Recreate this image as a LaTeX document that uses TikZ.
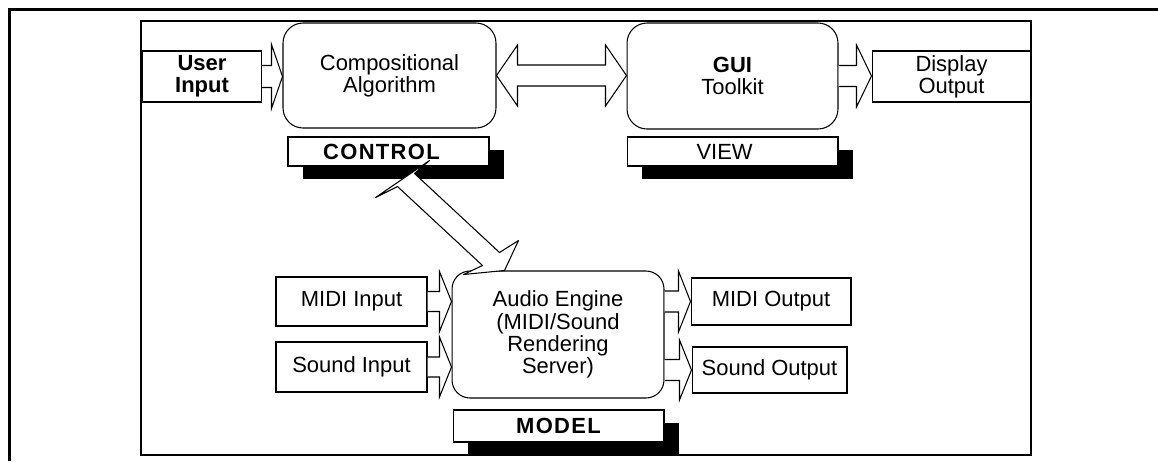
\documentclass[tikz,border=0pt]{standalone}
\usepackage{fontspec}
\setmainfont{Liberation Sans}
\newfontfamily\tagfont[LetterSpace=6]{Liberation Sans}
\usetikzlibrary{calc,shadows}

% one drawing unit in points (the picture is laid out on a 0.02cm grid)
\newcommand\pxu{0.569055pt}

% hollow block arrow pointing right: #1 start, #2 tip (same height),
% #3 shaft half-width, #4 head half-width, #5 head length (grid units)
\newcommand\blockarrowR[5]{%
  \draw[blockarrow] let \p1=(#1), \p2=(#2) in
    (\x1,{\y1+#3*\pxu}) -- ({\x2-#5*\pxu},{\y1+#3*\pxu})
    -- ({\x2-#5*\pxu},{\y1+#4*\pxu}) -- (\x2,\y1)
    -- ({\x2-#5*\pxu},{\y1-#4*\pxu}) -- ({\x2-#5*\pxu},{\y1-#3*\pxu})
    -- (\x1,{\y1-#3*\pxu});
}
% hollow block arrow with heads at both ends
\newcommand\blockarrowLR[5]{%
  \draw[blockarrow] let \p1=(#1), \p2=(#2) in
    (\x1,\y1) -- ({\x1+#5*\pxu},{\y1+#4*\pxu}) -- ({\x1+#5*\pxu},{\y1+#3*\pxu})
    -- ({\x2-#5*\pxu},{\y1+#3*\pxu}) -- ({\x2-#5*\pxu},{\y1+#4*\pxu})
    -- (\x2,\y1)
    -- ({\x2-#5*\pxu},{\y1-#4*\pxu}) -- ({\x2-#5*\pxu},{\y1-#3*\pxu})
    -- ({\x1+#5*\pxu},{\y1-#3*\pxu}) -- ({\x1+#5*\pxu},{\y1-#4*\pxu})
    -- cycle;
}

\tikzset{
  txt/.style={font=\fontsize{12.5pt}{12.6pt}\selectfont, align=center, inner sep=0pt},
  iobox/.style={txt, draw, fill=white, line width=0.6pt},
  unit/.style={txt, draw, fill=white, line width=0.6pt, rounded corners=0.4cm},
  tag/.style={txt, draw, fill=white, line width=0.6pt,
    drop shadow={opacity=1, fill=black, shadow xshift=0.3cm, shadow yshift=-0.25cm}},
  blockarrow/.style={draw, fill=white, line width=0.6pt, line join=miter},
}

\begin{document}
\begin{tikzpicture}[x=0.02cm, y=-0.02cm]
\useasboundingbox (0,0) rectangle (1158,461);

% outer and inner frames
\draw[line width=1.4pt] (9.5,461) -- (9.5,9.5) -- (1158,9.5);
\draw[line width=0.85pt] (141,21) rectangle (1031,455);

% controller / view row
\node[iobox, minimum width=2.38cm, minimum height=1.02cm] (userin) at (202,76.5)
  {\textbf{User}\\\textbf{Input}};
\node[unit, minimum width=4.26cm, minimum height=2.10cm] (comp) at (389.5,75.5)
  {Compositional\\Algorithm};
\node[unit, minimum width=4.22cm, minimum height=2.12cm] (gui) at (732.5,76)
  {\textbf{GUI}\\Toolkit};
\node[iobox, minimum width=3.18cm, minimum height=1.02cm] (dispout) at (951.5,76.5)
  {Display\\Output};

\node[tag, minimum width=4.02cm, minimum height=0.58cm] (control) at (388.5,151.5)
  {\tagfont\bfseries CONTROL\kern 8pt};
\node[tag, minimum width=4.22cm, minimum height=0.58cm] (view) at (732.5,151.5)
  {VIEW\kern 9pt};

% model row
\node[unit, rounded corners=0.36cm, minimum width=4.24cm, minimum height=2.54cm] (audio) at (558,334.5)
  {Audio Engine\\(MIDI/Sound\\Rendering\\Server)};
\node[iobox, minimum width=3.02cm, minimum height=0.98cm] (midiin) at (351.5,301.5) {MIDI Input};
\node[iobox, minimum width=3.02cm, minimum height=1.00cm] (soundin) at (351.5,367) {Sound Input};
\node[iobox, minimum width=3.20cm, minimum height=0.94cm] (midiout) at (771,301.5) {MIDI Output};
\node[iobox, minimum width=3.10cm, minimum height=0.92cm] (soundout) at (769.5,370) {Sound Output};
\node[tag, minimum width=4.22cm, minimum height=0.64cm] (model) at (558.5,426)
  {\tagfont\bfseries MODEL};

% block arrows
\blockarrowR{userin.east}{comp.west |- userin.east}{11}{32}{11}
\blockarrowLR{comp.east}{gui.west |- comp.east}{10.5}{30.5}{21}
\blockarrowR{gui.east}{dispout.west |- gui.east}{10.5}{31}{15}
\blockarrowR{midiin.east}{audio.west |- midiin.east}{10}{30}{12}
\blockarrowR{soundin.east}{audio.west |- soundin.east}{10}{30}{12}
\blockarrowR{audio.east |- midiout.west}{midiout.west}{10.5}{30.5}{12}
\blockarrowR{audio.east |- soundout.west}{soundout.west}{10.5}{30}{12}

% slanted two-headed arrow between CONTROL and the audio engine
\coordinate (ctltip) at ($(control.south east)+(-60,-6)$);
\coordinate (audtip) at ($(audio.north west)+(12,4)$);
\draw[blockarrow, line join=round]
  (ctltip) -- ($(ctltip)+(-15,13)$) -- ($(audtip)+(36,-22)$)
  -- ($(audtip)+(55,-34)$) -- ($(audtip)+(41,-4)$) -- (audtip)
  -- ($(audtip)+(19,-9)$) -- ($(ctltip)+(-32,26)$)
  -- ($(ctltip)+(-54,37)$) -- cycle;
\end{tikzpicture}
\end{document}
